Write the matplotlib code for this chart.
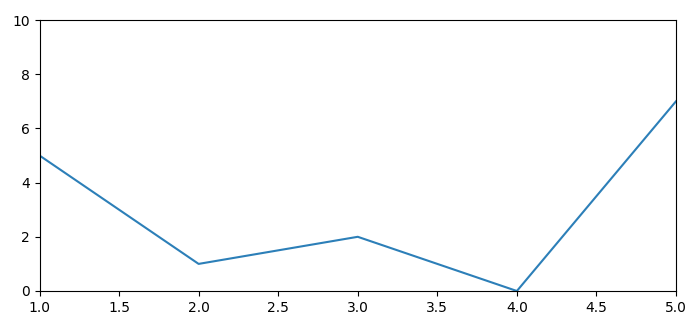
import matplotlib
matplotlib.use("Agg")
import matplotlib.pyplot as plt

x = [1, 2, 3, 4, 5]
y = [5, 1, 2, 0, 7]

fig = plt.figure(figsize=(7, 3.27), dpi=100)
ax = fig.add_axes([39.5/700, 1-291/327, (676-39.5)/700, (291-20)/327])
ax.plot(x, y, color="#2c7fb8", linewidth=1.5)
ax.set_xlim(1, 5)
ax.set_ylim(0, 10)
fig.savefig("out.png", dpi=100)
